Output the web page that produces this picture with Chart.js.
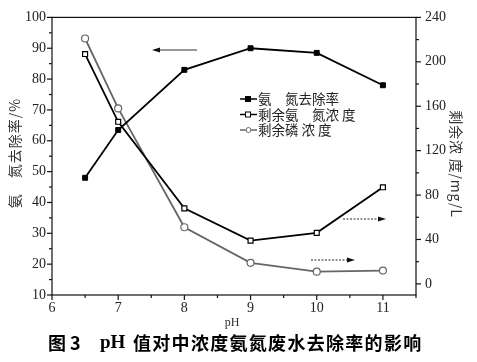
<!DOCTYPE html>
<html>
<head>
<meta charset="utf-8">
<script src="https://cdn.jsdelivr.net/npm/chart.js@4.4.0/dist/chart.umd.min.js"></script>
<style>
  html, body { margin: 0; padding: 0; background: #fff; }
  #wrap { width: 477px; height: 362px; }
</style>
</head>
<body>
<div id="wrap"><canvas id="myChart" width="477" height="362"></canvas></div>
<script>
const phValues = [6.5, 7, 8, 9, 10, 11];
const removalRate = [48, 63.5, 83, 90, 88.5, 78];          // 氨氮去除率 %
const residualAmmonia = [207, 146, 68, 39, 46, 87];       // 剩余氨氮浓度 mg/L
const residualPhosphorus = [221, 158, 51, 19, 11, 12];    // 剩余磷浓度 mg/L
const leftTicks = [10, 20, 30, 40, 50, 60, 70, 80, 90, 100];
const rightTicks = [0, 40, 80, 120, 160, 200, 240];
const xTicks = [6, 7, 8, 9, 10, 11];

const serif = "'Liberation Serif', 'DejaVu Serif', serif";
const cjk = "'Noto Sans CJK SC', sans-serif";

function pts(vals) {
    return phValues.map((x, i) => ({ x: x, y: vals[i] }));
}

function arrow(ctx, x1, y, x2, dashed) {
    ctx.save();
    ctx.strokeStyle = dashed ? '#222' : '#777';
    ctx.fillStyle = '#111';
    ctx.lineWidth = dashed ? 1 : 1.6;
    if (dashed) ctx.setLineDash([2, 1.5]);
    ctx.beginPath();
    ctx.moveTo(x1, y);
    ctx.lineTo(x2, y);
    ctx.stroke();
    ctx.setLineDash([]);
    const dir = x2 > x1 ? 1 : -1;
    ctx.beginPath();
    ctx.moveTo(x2 + dir * 3, y);
    ctx.lineTo(x2 - dir * 5, y - 2.5);
    ctx.lineTo(x2 - dir * 5, y + 2.5);
    ctx.closePath();
    ctx.fill();
    ctx.restore();
}

// extra drawing: minor/major tick marks, legend, arrows, titles, caption
const decorations = {
    id: 'decorations',
    afterDraw(chart) {
        const ctx = chart.ctx;
        const a = chart.chartArea;
        const x = chart.scales.x, yl = chart.scales.y, yr = chart.scales.y2;
        ctx.save();
        ctx.strokeStyle = '#111';
        ctx.lineWidth = 1.2;
        // frame
        ctx.strokeRect(a.left, a.top, a.right - a.left, a.bottom - a.top);
        // x ticks
        for (let v = 6; v <= 11.5; v += 0.5) {
            const px = x.getPixelForValue(v);
            const len = Number.isInteger(v) ? 5 : 3;
            ctx.beginPath(); ctx.moveTo(px, a.bottom); ctx.lineTo(px, a.bottom + len); ctx.stroke();
        }
        // left y ticks
        for (let v = 10; v <= 100; v += 5) {
            const py = yl.getPixelForValue(v);
            const len = v % 10 === 0 ? 5 : 3;
            ctx.beginPath(); ctx.moveTo(a.left, py); ctx.lineTo(a.left - len, py); ctx.stroke();
        }
        // right y ticks
        for (let v = 0; v <= 240; v += 20) {
            const py = yr.getPixelForValue(v);
            const len = v % 40 === 0 ? 5 : 3;
            ctx.beginPath(); ctx.moveTo(a.right, py); ctx.lineTo(a.right + len, py); ctx.stroke();
        }

        // legend
        const legend = [
            { text: '氨　氮去除率', color: '#000', shape: 'rect', fill: '#000' },
            { text: '剩余氨　氮浓 度', color: '#000', shape: 'rect', fill: '#fff' },
            { text: '剩余磷 浓 度', color: '#666', shape: 'circle', fill: '#fff' }
        ];
        ctx.font = '13.5px ' + cjk;
        ctx.textBaseline = 'middle';
        legend.forEach((item, i) => {
            const ly = 99 + i * 15.5;
            ctx.strokeStyle = item.color;
            ctx.lineWidth = 1.5;
            ctx.beginPath(); ctx.moveTo(240, ly); ctx.lineTo(257, ly); ctx.stroke();
            ctx.fillStyle = item.fill;
            ctx.lineWidth = 1;
            if (item.shape === 'rect') {
                ctx.fillRect(245.5, ly - 2.5, 5, 5);
                ctx.strokeRect(245.5, ly - 2.5, 5, 5);
            } else {
                ctx.beginPath(); ctx.arc(248.5, ly, 2.5, 0, Math.PI * 2); ctx.fill(); ctx.stroke();
            }
            ctx.fillStyle = '#222';
            ctx.textAlign = 'left';
            ctx.fillText(item.text, 258, ly);
        });

        // arrows
        arrow(ctx, 197, 50, 155, false);
        arrow(ctx, 343, 219, 383, true);
        arrow(ctx, 311, 260, 352, true);

        // axis titles
        ctx.fillStyle = '#333';
        ctx.save();
        ctx.translate(15, 153);
        ctx.rotate(-Math.PI / 2);
        ctx.textAlign = 'center';
        ctx.font = '14px ' + cjk;
        ctx.letterSpacing = '1px';
        ctx.fillText('氨　氮去除率/%', 0, 0);
        ctx.restore();

        ctx.save();
        ctx.translate(456, 164);
        ctx.rotate(Math.PI / 2);
        ctx.textAlign = 'center';
        ctx.font = '14px ' + cjk;
        ctx.letterSpacing = '0.8px';
        ctx.fillText('剩余浓 度/mg/L', 0, 0);
        ctx.restore();

        ctx.textAlign = 'center';
        ctx.font = '12px ' + serif;
        ctx.fillText('pH', 232, 323);

        // caption
        ctx.fillStyle = '#000';
        ctx.textAlign = 'left';
        ctx.font = 'bold 18px ' + cjk;
        ctx.fillText('图 3', 48, 343);
        ctx.font = 'bold 19px ' + serif;
        ctx.fillText('pH', 100, 343);
        ctx.font = 'bold 18px ' + cjk;
        ctx.letterSpacing = '1.3px';
        ctx.fillText('值对中浓度氨氮废水去除率的影响', 133, 343);
        ctx.restore();
    }
};

const tickFont = { family: serif, size: 14 };

const config = {
    type: 'line',
    data: {
        datasets: [
            {
                label: '氨　氮去除率',
                data: pts(removalRate),
                yAxisID: 'y',
                borderColor: '#000',
                backgroundColor: '#000',
                borderWidth: 1.8,
                pointStyle: 'rect',
                pointRadius: 3.5,
                pointBorderWidth: 1
            },
            {
                label: '剩余氨　氮浓 度',
                data: pts(residualAmmonia),
                yAxisID: 'y2',
                borderColor: '#000',
                backgroundColor: '#fff',
                borderWidth: 1.8,
                pointStyle: 'rect',
                pointRadius: 3.5,
                pointBorderWidth: 1.2
            },
            {
                label: '剩余磷 浓 度',
                data: pts(residualPhosphorus),
                yAxisID: 'y2',
                borderColor: '#666',
                backgroundColor: '#fff',
                borderWidth: 1.8,
                pointStyle: 'circle',
                pointRadius: 3.5,
                pointBorderWidth: 1.2
            }
        ]
    },
    options: {
        responsive: false,
        animation: false,
        layout: { padding: { top: 15, right: 0, left: 0, bottom: 0 } },
        plugins: {
            legend: { display: false },
            tooltip: { enabled: false }
        },
        scales: {
            x: {
                type: 'linear',
                min: 6,
                max: 11.5,
                afterBuildTicks: s => { s.ticks = xTicks.map(v => ({ value: v })); },
                afterFit: s => { s.height = 67; },
                grid: { display: false, drawTicks: false },
                border: { display: false },
                ticks: { font: tickFont, color: '#222', padding: 5 }
            },
            y: {
                position: 'left',
                min: 10,
                max: 100,
                afterBuildTicks: s => { s.ticks = leftTicks.map(v => ({ value: v })); },
                afterFit: s => { s.width = 52; },
                grid: { display: false, drawTicks: false },
                border: { display: false },
                ticks: { font: tickFont, color: '#222', padding: 6 }
            },
            y2: {
                position: 'right',
                min: -10,
                max: 240,
                afterBuildTicks: s => { s.ticks = rightTicks.map(v => ({ value: v })); },
                afterFit: s => { s.width = 61; },
                grid: { display: false, drawTicks: false },
                border: { display: false },
                ticks: { font: tickFont, color: '#222', padding: 9 }
            }
        }
    },
    plugins: [decorations]
};

new Chart(document.getElementById('myChart'), config);
</script>
</body>
</html>
